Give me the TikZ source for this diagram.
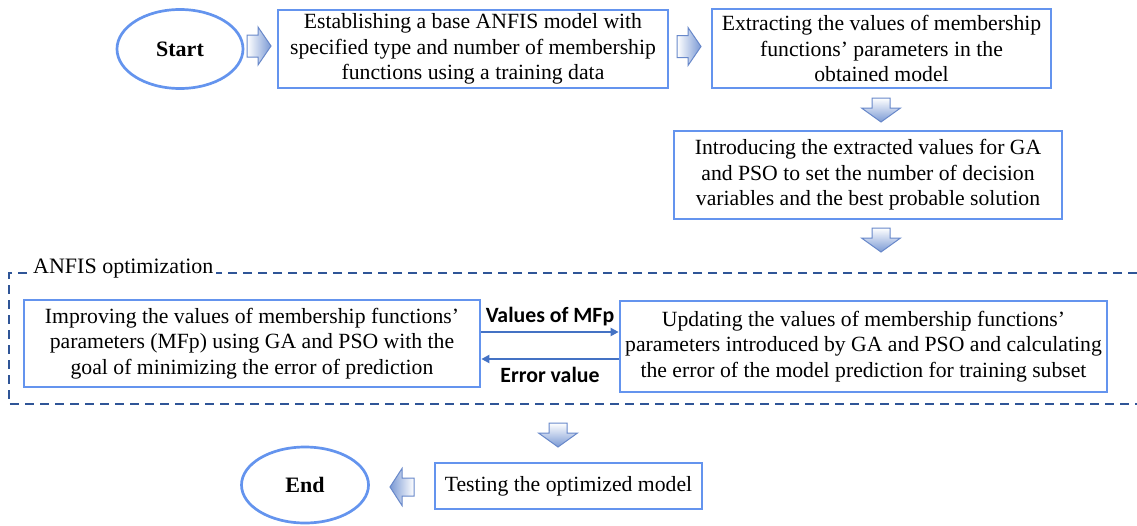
\documentclass[tikz,border=0pt]{standalone}
\usepackage{fontspec}
\setmainfont{Liberation Serif}
\newfontfamily\lblfont{Carlito}
\usetikzlibrary{shapes.geometric,arrows.meta}
\definecolor{boxblue}{RGB}{100,148,238}
\definecolor{framblue}{RGB}{47,85,151}
\definecolor{connblue}{RGB}{68,114,196}
\definecolor{arrowblue}{RGB}{122,153,212}
\definecolor{arrowline}{RGB}{104,136,202}
\tikzset{
  txt/.style={font=\fontsize{21.7}{25.5}\selectfont, align=center, inner sep=0pt},
  stepbox/.style={txt, draw=boxblue, line width=2.7pt, rectangle},
  termnode/.style={txt, draw=boxblue, line width=2.7pt, ellipse, font=\fontsize{22}{25.5}\selectfont\bfseries},
  conn/.style={draw=connblue, line width=2.4pt, -{Triangle[length=8pt,width=8pt]}},
  lbl/.style={font=\fontsize{21.8}{25}\lblfont\bfseries, inner sep=0pt},
  barrow/.style={draw=arrowline, line width=1pt},
  pics/rarr/.style={code={\path[barrow, left color=white, right color=arrowblue]
    (0,-11) -- (11,-11) -- (11,-19) -- (24,0) -- (11,19) -- (11,11) -- (0,11) -- cycle;}},
  pics/darr/.style={code={\path[barrow, top color=white, bottom color=arrowblue]
    (-9,0) -- (9,0) -- (9,10) -- (19.5,10) -- (0,24) -- (-19.5,10) -- (-9,10) -- cycle;}},
  pics/larr/.style={code={\path[barrow, left color=arrowblue, right color=white]
    (0,0) -- (12,-18.5) -- (12,-9) -- (24,-9) -- (24,9) -- (12,9) -- (12,18.5) -- cycle;}},
}
\begin{document}
\begin{tikzpicture}[x=1pt,y=-1pt]
\useasboundingbox[fill=white] (0,0) rectangle (1137,525);
% terminals
\node[termnode, minimum width=126pt, minimum height=79pt] (start) at (180,49) {Start};
\node[termnode, minimum width=127pt, minimum height=76pt] (end) at (305,485) {End};
% boxes
\node[stepbox, minimum width=390pt, minimum height=78pt] (b1) at (473,49)
  {Establishing a base ANFIS model with\\specified type and number of membership\\functions using a training data};
\node[stepbox, minimum width=339pt, minimum height=79pt] (b2) at (881.5,48.5)
  {Extracting the values of membership\\functions’ parameters in the\\obtained model};
\node[stepbox, minimum width=388pt, minimum height=88pt] (b3) at (868,175)
  {Introducing the extracted values for GA\\and PSO to set the number of decision\\variables and the best probable solution};
% dashed frame
\draw[framblue, line width=2.8pt, dash pattern=on 9pt off 6pt] (1137,273) -- (9,273) -- (9,404) -- (1137,404);
\node[txt, font=\fontsize{22}{25.5}\selectfont, fill=white, inner sep=3pt, anchor=west] (frame) at (30,269) {ANFIS optimization};
\node[stepbox, minimum width=456pt, minimum height=87pt] (b4) at (252,343.5)
  {Improving the values of membership functions’\\parameters (MFp) using GA and PSO with the\\goal of minimizing the error of prediction};
\node[stepbox, minimum width=487pt, minimum height=91pt] (b5) at (863.5,346.5)
  {Updating the values of membership functions’\\parameters introduced by GA and PSO and calculating\\the error of the model prediction for training subset};
\node[stepbox, minimum width=267pt, minimum height=46pt] (b6) at (568.5,486)
  {Testing the optimized model};
% connectors between b4 and b5
\draw[conn] ([yshift=11.5pt]b4.east) -- ([yshift=11.5pt]b4.east -| b5.west);
\draw[conn] ([yshift=-15.5pt]b4.east -| b5.west) -- ([yshift=-15.5pt]b4.east);
\node[lbl] (lv) at (550,317) {Values of MFp};
\node[lbl] (le) at (550,375) {Error value};
% block arrows
\pic at (247,46) {rarr};
\pic at (677,46.5) {rarr};
\pic at (881,98) {darr};
\pic at (881,228) {darr};
\pic at (558,423) {darr};
\pic at (390,487) {larr};
\end{tikzpicture}
\end{document}
